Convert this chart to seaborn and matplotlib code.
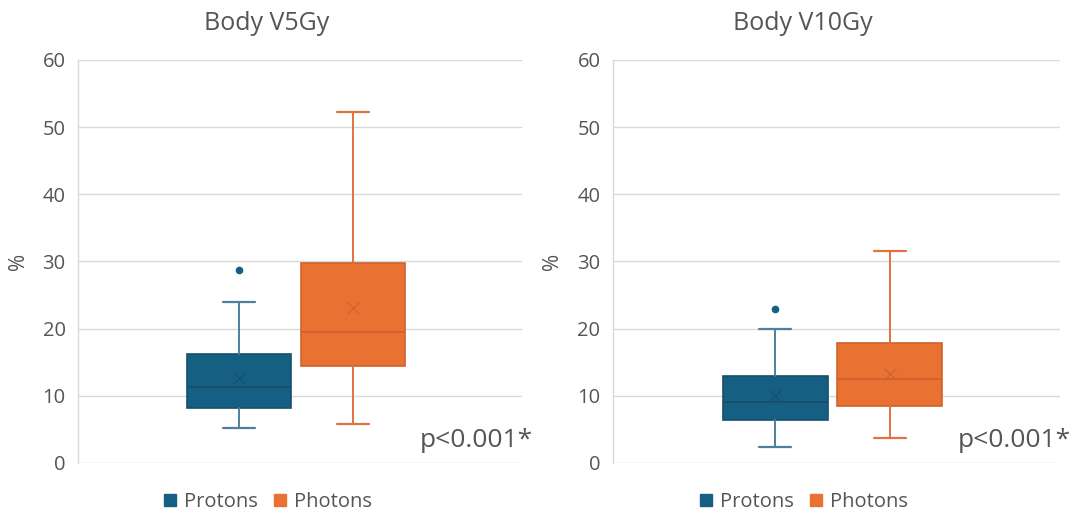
import matplotlib
matplotlib.use("Agg")
import matplotlib.pyplot as plt
from matplotlib.lines import Line2D
import seaborn as sns

sns.set_theme(style="white")
plt.rcParams['font.family'] = ['Open Sans', 'DejaVu Sans']

panels = ["Body V5Gy", "Body V10Gy"]
groups = ["Protons", "Photons"]
colors = ["#156082", "#E97132"]
edge_colors = ["#17506b", "#cf6230"]
whisker_colors = ["#4f7f9c", "#e0733f"]

# per panel: [protons, photons]
whislo = [[5.2, 5.8], [2.4, 3.7]]
q1 = [[8.2, 14.4], [6.4, 8.5]]
med = [[11.3, 19.5], [9.1, 12.5]]
q3 = [[16.2, 29.7], [13.0, 17.9]]
whishi = [[23.9, 52.2], [20.0, 31.6]]
means = [[12.7, 23.0], [9.9, 13.2]]
fliers = [[[28.7], []], [[22.9], []]]
pvalues = ["p<0.001*", "p<0.001*"]

yticks = [0, 10, 20, 30, 40, 50, 60]
gray = "#555555"

fig = plt.figure(figsize=(10.72, 5.13), dpi=100)
ax_rects = [[0.0728, 0.0975, 0.414, 0.7856], [0.5718, 0.0975, 0.417, 0.7856]]
title_x = [0.249, 0.749]

for p in range(2):
    ax = fig.add_axes(ax_rects[p])
    positions = [0.363, 0.619]
    for g in range(2):
        stats = [dict(whislo=whislo[p][g], q1=q1[p][g], med=med[p][g], q3=q3[p][g],
                      whishi=whishi[p][g], mean=means[p][g], fliers=fliers[p][g])]
        ax.bxp(stats, positions=[positions[g]], widths=0.234, patch_artist=True,
               showmeans=True, meanline=False, capwidths=0.072,
               boxprops=dict(facecolor=colors[g], edgecolor=edge_colors[g], linewidth=1.2),
               medianprops=dict(color=edge_colors[g], linewidth=1.4),
               whiskerprops=dict(color=whisker_colors[g], linewidth=1.4),
               capprops=dict(color=whisker_colors[g], linewidth=1.6),
               meanprops=dict(marker='x', markeredgecolor=edge_colors[g], markersize=8,
                              markeredgewidth=0.9),
               flierprops=dict(marker='o', markerfacecolor=colors[g], markeredgecolor=colors[g],
                               markersize=4.5))
    ax.set_xlim(0, 1)
    ax.set_ylim(0, 60)
    ax.set_yticks(yticks)
    ax.set_xticks([])
    ax.yaxis.grid(True, color="#d9d9d9", linewidth=1.0)
    ax.set_axisbelow(True)
    for s in ["top", "right", "bottom"]:
        ax.spines[s].set_visible(False)
    ax.spines["left"].set_color("#d9d9d9")
    ax.spines["left"].set_linewidth(1.0)
    ax.tick_params(axis='y', length=0, labelsize=14.5, labelcolor=gray, pad=9)
    ax.set_ylabel("%", fontsize=15, color=gray, labelpad=10)
    ax.text(1.025, 0.055, pvalues[p], transform=ax.transAxes, ha="right", va="center",
            fontsize=19, color=gray)
    fig.text(title_x[p], 0.955, panels[p], ha="center", va="center", fontsize=18, color=gray)
    handles = [Line2D([], [], marker='s', linestyle='none', markersize=8,
                      markerfacecolor=colors[i], markeredgecolor=colors[i]) for i in range(2)]
    fig.legend(handles, groups, loc="center", bbox_to_anchor=(title_x[p], 0.021),
               ncol=2, frameon=False, fontsize=14.5, labelcolor=gray,
               handletextpad=0.3, columnspacing=0.7, handlelength=0.8,
               borderpad=0.1)

fig.savefig("out.png", dpi=100)
